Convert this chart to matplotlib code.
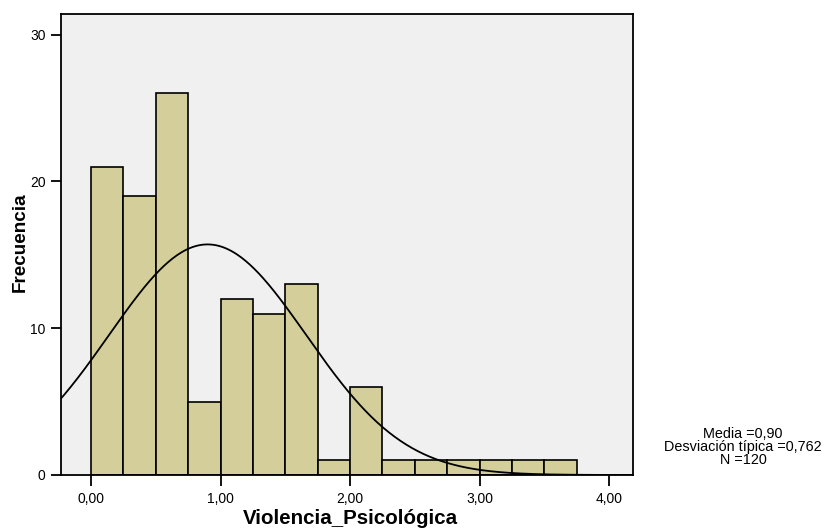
import numpy as np
import matplotlib
matplotlib.use("Agg")
import matplotlib.pyplot as plt

# histogram bins (width 0.25) and counts
bin_edges = [0.00, 0.25, 0.50, 0.75, 1.00, 1.25, 1.50, 1.75, 2.00,
             2.25, 2.50, 2.75, 3.00, 3.25, 3.50, 3.75]
counts = [21, 19, 26, 5, 12, 11, 13, 1, 6, 1, 1, 1, 1, 1, 1]

# summary stats shown in the legend box
mean = 0.90
sd = 0.762
n = 120

x_ticks = [0, 1, 2, 3, 4]
x_ticklabels = ["0,00", "1,00", "2,00", "3,00", "4,00"]
y_ticks = [0, 10, 20, 30]

plt.rcParams["font.family"] = ["Liberation Sans", "DejaVu Sans"]

fig = plt.figure(figsize=(8.29, 5.30), dpi=100)
ax = fig.add_axes([61 / 829, 1 - 475 / 530, (633 - 61) / 829, (475 - 14) / 530])
ax.set_facecolor("#f0f0f0")

width = bin_edges[1] - bin_edges[0]
ax.bar(bin_edges[:-1], counts, width=width, align="edge",
       color="#d3ce9a", edgecolor="black", linewidth=1.2, zorder=2)

# fitted normal curve scaled to counts
xs = np.linspace(-0.25, 4.25, 400)
ys = n * width * np.exp(-0.5 * ((xs - mean) / sd) ** 2) / (sd * np.sqrt(2 * np.pi))
ax.plot(xs, ys, color="black", linewidth=1.3, zorder=3)

ax.set_xlim(-0.232, 4.185)
ax.set_ylim(0, 31.4)
ax.set_xticks(x_ticks)
ax.set_xticklabels(x_ticklabels)
ax.set_yticks(y_ticks)
ax.tick_params(direction="out", length=7, width=1.3, labelsize=10, pad=4)
ax.tick_params(axis="x", length=8)
for s in ax.spines.values():
    s.set_linewidth(1.3)

fig.text(350 / 829, 1 - 518 / 530, "Violencia_Psicológica",
         ha="center", va="center", fontsize=14.8, fontweight="bold")
fig.text(20 / 829, 1 - 242 / 530, "Frecuencia", rotation=90,
         ha="center", va="center", fontsize=13.6, fontweight="bold")

fig.text(743 / 829, 1 - 447 / 530,
         f"Media ={mean:.2f}\nDesviación típica ={sd:.3f}\nN ={n}".replace(".", ","),
         ha="center", va="center", fontsize=10.4, linespacing=0.92)

fig.savefig("out.png", dpi=100)
